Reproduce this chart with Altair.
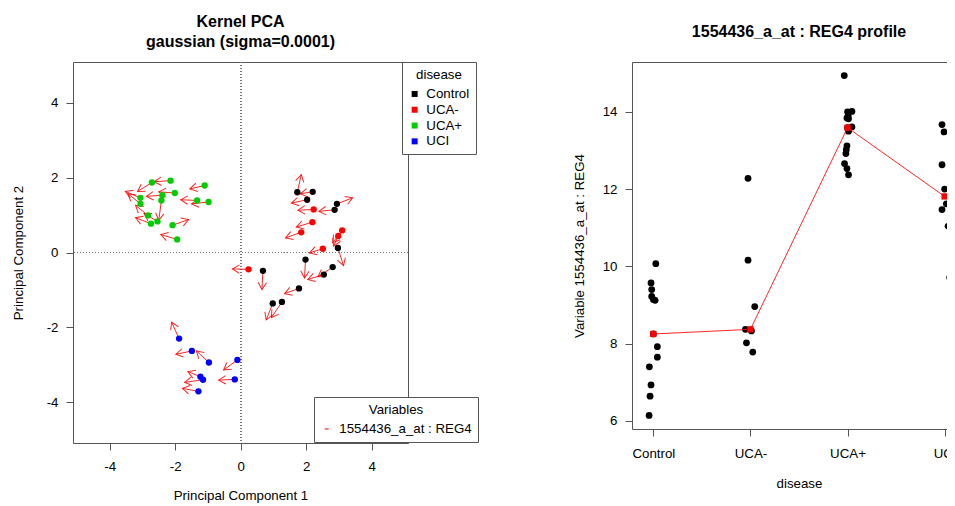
import json
import math
import altair as alt
import pandas as pd

# ---------------- data ----------------
groups = ["Control", "UCA-", "UCA+", "UCI"]
group_colors = ["#000000", "#FF0000", "#00CD00", "#0000FF"]
variable_name = "1554436_a_at : REG4"

# Kernel PCA scores (PC1, PC2) and arrow end points, per group
control_pc1 = [1.73, 2.20, 2.03, 2.94, 2.87, 2.97, 1.98, 2.81, 2.54, 1.78, 0.68, 1.26, 0.98]
control_pc2 = [1.61, 1.62, 1.41, 1.30, 1.14, 0.12, -0.19, -0.39, -0.59, -0.96, -0.49, -1.32, -1.36]
control_end1 = [1.85, 1.82, 1.55, 3.42, 2.39, 3.14, 1.95, 2.36, 2.05, 1.34, 0.65, 0.94, 0.78]
control_end2 = [2.08, 1.57, 1.32, 1.46, 1.10, -0.35, -0.68, -0.65, -0.72, -1.10, -0.99, -1.74, -1.80]

ucaneg_pc1 = [2.23, 2.19, 1.85, 3.10, 2.98, 2.51, 0.24]
ucaneg_pc2 = [1.15, 0.81, 0.54, 0.59, 0.44, 0.10, -0.45]
ucaneg_end1 = [1.75, 1.70, 1.37, 2.81, 2.84, 2.10, -0.25]
ucaneg_end2 = [1.13, 0.68, 0.39, 0.26, 0.17, -0.01, -0.44]

ucapos_pc1 = [-2.14, -2.71, -2.01, -1.10, -3.06, -2.39, -2.42, -3.06, -1.33, -0.98, -2.83, -2.54, -2.74, -2.08, -1.94]
ucapos_pc2 = [1.92, 1.87, 1.59, 1.79, 1.46, 1.53, 1.39, 1.30, 1.39, 1.35, 0.99, 0.83, 0.77, 0.73, 0.35]
ucapos_end1 = [-2.64, -3.15, -2.50, -1.55, -3.52, -2.88, -2.50, -3.44, -1.83, -1.50, -3.21, -2.95, -3.21, -1.59, -2.44]
ucapos_end2 = [1.89, 1.63, 1.62, 1.70, 1.63, 1.50, 0.86, 1.57, 1.41, 1.30, 1.26, 1.04, 0.93, 0.88, 0.48]

uci_pc1 = [-1.88, -1.49, -0.97, -0.10, -1.23, -1.15, -0.18, -1.29]
uci_pc2 = [-2.30, -2.63, -2.94, -2.87, -3.32, -3.40, -3.39, -3.71]
uci_end1 = [-2.11, -1.98, -1.35, -0.52, -1.61, -1.71, -0.67, -1.78]
uci_end2 = [-1.86, -2.72, -2.63, -3.14, -3.18, -3.47, -3.41, -3.63]

# Expression profile (value, horizontal jitter) per group
control_expr = [10.07, 9.57, 9.40, 9.22, 9.14, 9.12, 8.25, 7.92, 7.65, 7.40, 6.93, 6.64, 6.14]
control_jit = [0.025, -0.024, -0.017, -0.017, 0.0, 0.018, 0.0, 0.041, 0.041, -0.041, -0.024, -0.034, -0.044]
ucaneg_expr = [12.28, 10.16, 8.96, 8.37, 8.33, 8.02, 7.78]
ucaneg_jit = [-0.025, -0.025, 0.044, -0.052, 0.010, -0.041, 0.024]
ucapos_expr = [14.94, 14.00, 14.01, 13.84, 13.82, 13.90, 13.61, 13.59, 13.50, 13.12, 13.02, 12.92, 12.66, 12.53, 12.37]
ucapos_jit = [-0.034, 0.0, 0.045, -0.006, 0.010, 0.007, 0.045, 0.0, 0.010, -0.006, -0.013, -0.017, -0.031, -0.006, 0.010]
uci_expr = [13.67, 13.48, 12.63, 12.00, 11.62, 11.47, 11.04, 9.71]
uci_jit = [-0.027, -0.006, -0.027, 0.0, 0.018, -0.027, 0.035, 0.052]

# ---------------- layout constants ----------------
FONT = "Liberation Sans"
FS = 13.3
FRAME = "#555555"
L_W, L_H = 335, 381
R_W, R_H = 334, 367
X_DOM = [-5.12, 5.11]
Y_DOM = [-5.09, 5.09]

# ---------------- tables ----------------
pcs = [
    (control_pc1, control_pc2, control_end1, control_end2),
    (ucaneg_pc1, ucaneg_pc2, ucaneg_end1, ucaneg_end2),
    (ucapos_pc1, ucapos_pc2, ucapos_end1, ucapos_end2),
    (uci_pc1, uci_pc2, uci_end1, uci_end2),
]
kx = L_W / (X_DOM[1] - X_DOM[0])
ky = L_H / (Y_DOM[1] - Y_DOM[0])
rows = []
for g, (a, b, c, d) in zip(groups, pcs):
    for x0, y0, x1, y1 in zip(a, b, c, d):
        ang = math.degrees(math.atan2(-(y1 - y0) * ky, (x1 - x0) * kx)) % 360
        rows.append(dict(group=g, pc1=x0, pc2=y0, end1=x1, end2=y1,
                         angle=ang, variable=variable_name))
kdf = pd.DataFrame(rows)

exprs = [(control_expr, control_jit), (ucaneg_expr, ucaneg_jit),
         (ucapos_expr, ucapos_jit), (uci_expr, uci_jit)]
erows = []
for i, (g, (vals, jit)) in enumerate(zip(groups, exprs)):
    for v, j in zip(vals, jit):
        erows.append(dict(group=g, gidx=i + 1, xpos=i + 1 + j, value=v))
edf = pd.DataFrame(erows)

# ---------------- left panel ----------------
xs = alt.Scale(domain=X_DOM, nice=False, zero=False)
ys = alt.Scale(domain=Y_DOM, nice=False, zero=False)
ax_common = dict(grid=False, domain=False, tickColor=FRAME, tickSize=7,
                 labelFontSize=FS, titleFontSize=FS, titleFontWeight="normal",
                 labelColor="#000", titleColor="#000", labelFont=FONT, titleFont=FONT)
num_label = "datum.value + ''"
xax = alt.Axis(values=[-4, -2, 0, 2, 4], title="Principal Component 1", labelExpr=num_label,
               labelPadding=9, titlePadding=16, **ax_common)
yax = alt.Axis(values=[-4, -2, 0, 2, 4], title="Principal Component 2", labelExpr=num_label,
               labelPadding=8, titlePadding=21, **ax_common)

base = alt.Chart(kdf)

vline = alt.Chart(kdf).mark_rule(color="#777", strokeDash=[1, 2], strokeWidth=1).encode(
    x=alt.datum(0, scale=xs, axis=xax))
hline = alt.Chart(kdf).mark_rule(color="#777", strokeDash=[1, 2], strokeWidth=1).encode(
    y=alt.datum(0, scale=ys, axis=yax))

shafts = base.mark_rule(strokeWidth=1, opacity=0.85).encode(
    x=alt.X("pc1:Q", scale=xs, axis=xax),
    y=alt.Y("pc2:Q", scale=ys, axis=yax),
    x2="end1:Q",
    y2="end2:Q",
    stroke=alt.Stroke("variable:N",
                      scale=alt.Scale(domain=[variable_name], range=["#FF0000"]),
                      legend=alt.Legend(title="Variables", orient="none",
                                        legendX=241, legendY=335,
                                        fillColor="white", strokeColor=FRAME,
                                        padding=6, titleAnchor="middle",
                                        titleFontWeight="normal", titleFontSize=FS,
                                        titleFont=FONT, labelFont=FONT,
                                        titleColor="#000", labelColor="#000",
                                        labelFontSize=FS, titlePadding=6,
                                        symbolType="stroke", symbolSize=16,
                                        symbolStrokeColor="#FF0000",
                                        symbolStrokeWidth=1.2, labelOffset=6)),
)

heads = base.mark_point(shape="M -1 -0.6 L 0 0 L -1 0.6", filled=False,
                        size=196, strokeWidth=1, opacity=0.85, color="#FF0000").encode(
    x=alt.X("end1:Q", scale=xs, axis=xax),
    y=alt.Y("end2:Q", scale=ys, axis=yax),
    angle=alt.Angle("angle:Q", scale=None),
)

pts = base.mark_circle(size=40, opacity=1).encode(
    x=alt.X("pc1:Q", scale=xs, axis=xax),
    y=alt.Y("pc2:Q", scale=ys, axis=yax),
    color=alt.Color("group:N",
                    scale=alt.Scale(domain=groups, range=group_colors),
                    legend=alt.Legend(title="disease", orient="none",
                                      legendX=329, legendY=0,
                                      fillColor="white", strokeColor=FRAME,
                                      padding=6, titleAnchor="middle",
                                      titleFontWeight="normal", titleFontSize=FS,
                                      titleFont=FONT, labelFont=FONT,
                                      titleColor="#000", labelColor="#000",
                                      labelFontSize=FS, titlePadding=6,
                                      rowPadding=1.8, symbolType="square",
                                      symbolSize=36, symbolStrokeWidth=0,
                                      labelOffset=5)),
)

left = alt.layer(vline, hline, shafts, heads, pts).properties(
    width=L_W, height=L_H,
    title=alt.Title(["Kernel PCA", "gaussian (sigma=0.0001)"], fontSize=16,
                    fontWeight="bold", lineHeight=20, offset=12, anchor="middle",
                    font=FONT, color="#000"),
)

# ---------------- right panel ----------------
label_expr = json.dumps(groups) + "[datum.value - 1]"
rxs = alt.Scale(domain=[0.78, 4.22], nice=False, zero=False)
rys = alt.Scale(domain=[5.79, 15.29], nice=False, zero=False)
rxax = alt.Axis(values=[1, 2, 3, 4], labelExpr=label_expr, title="disease",
                labelPadding=10, titlePadding=17, **ax_common)
ryax = alt.Axis(values=[6, 8, 10, 12, 14], title="Variable " + variable_name,
                labelPadding=8, titlePadding=16, **ax_common)

rbase = alt.Chart(edf)
rpts = rbase.mark_circle(size=46, opacity=1, color="#000").encode(
    x=alt.X("xpos:Q", scale=rxs, axis=rxax),
    y=alt.Y("value:Q", scale=rys, axis=ryax),
)
agg = rbase.transform_aggregate(med="median(value)", groupby=["gidx"])
rline = agg.mark_line(color="#FF0000", strokeWidth=1, opacity=0.85).encode(
    x=alt.X("gidx:Q", scale=rxs, axis=rxax),
    y=alt.Y("med:Q", scale=rys, axis=ryax),
)
rsq = agg.mark_square(color="#FF0000", size=40, opacity=1).encode(
    x=alt.X("gidx:Q", scale=rxs, axis=rxax),
    y=alt.Y("med:Q", scale=rys, axis=ryax),
)
right = alt.layer(rpts, rline, rsq).properties(
    width=R_W, height=R_H,
    title=alt.Title(variable_name + " profile", fontSize=16, fontWeight="bold",
                    offset=22, anchor="middle", font=FONT, color="#000"),
)

chart = alt.hconcat(left, right, spacing=224, bounds="flush").resolve_legend(
    color="independent", stroke="independent"
).properties(
    autosize=alt.AutoSizeParams(type="none"),
    padding={"left": 65, "top": 54, "right": 874, "bottom": 444},
).configure(font=FONT).configure_view(stroke=FRAME, strokeWidth=1)

chart.save("out.html", embed_options={"renderer": "svg", "actions": False})
